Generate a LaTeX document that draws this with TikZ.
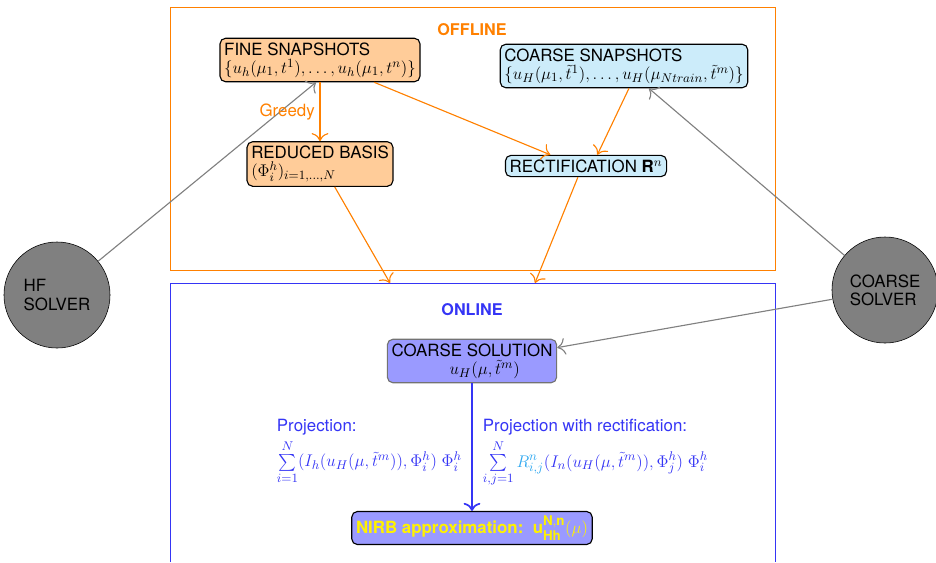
\documentclass[tikz,border=0pt]{standalone}
\usepackage{amsmath}
\usepackage{xcolor}
\usepackage{fontspec}
\setmainfont{TeX Gyre Heros}
\usepackage{tikz}
\usetikzlibrary{arrows.meta, positioning, calc}

% math a bit larger than the sans text around it
\DeclareMathSizes{12}{13}{9.5}{7.5}

\definecolor{offorange}{HTML}{FF8000}
\definecolor{onblue}{HTML}{3535F5}
\definecolor{finefill}{HTML}{FFCC99}
\definecolor{coarsefill}{HTML}{CCECFA}
\definecolor{solfill}{HTML}{9A9AFF}
\definecolor{rectblue}{HTML}{2FA8F0}
\definecolor{nirbyellow}{HTML}{FFF200}

\begin{document}
\begin{tikzpicture}[
    x=0.025cm, y=-0.025cm,
    every node/.style={font=\fontsize{12}{13}\selectfont},
    snap/.style={rectangle, rounded corners=4pt, draw, thick, align=left,
                 inner sep=3pt},
    solver/.style={circle, draw, fill=black!50, minimum size=2.65cm, align=left},
    framelabel/.style={font=\fontsize{11.5}{13}\selectfont\bfseries},
    offarrow/.style={-{To[length=2mm]}, thick, draw=offorange},
    grayarrow/.style={-{To[length=2mm]}, thick, draw=black!50},
    onarrow/.style={-{To[length=2mm]}, very thick, draw=onblue}
]
\useasboundingbox (0,0) rectangle (936,562);

% Offline / online frames
\draw[offorange] (170,7) rectangle (775,270);
\node[framelabel, text=offorange] (offlbl) at (472,30) {OFFLINE};
\draw[onblue] (170,562) |- (775,283) -- (775,562);
\node[framelabel, text=onblue] (onlbl) at (472,310) {ONLINE};

% Snapshots
\node[snap, fill=finefill] (fine) at (320,60)
    {FINE SNAPSHOTS \\ $\{u_h(\mu_1,t^1),\dots,u_h(\mu_1,t^n)\}$};
\node[snap, fill=coarsefill] (coarse) at (624,66)
    {COARSE SNAPSHOTS \\ $\{u_H(\mu_1,\tilde{t}^1),\dots,u_H(\mu_{Ntrain},\tilde{t}^m)\}$};

% Reduced basis and rectification
\node[snap, fill=finefill] (basis) at (320,164)
    {REDUCED BASIS \\ $(\Phi_i^h)_{i=1,\dots,N}$};
\node[snap, fill=coarsefill] (rect) at (586,166) {RECTIFICATION \textbf{R}$^n$};

% Solvers
\node[solver] (hf) at (57,295) {HF \\ SOLVER};
\node[solver] (cs) at (885,290) {COARSE \\ SOLVER};

% Online part
\node[snap, fill=solfill, draw=black!55] (sol) at (472,361)
    {COARSE SOLUTION \\ \hspace*{1.45cm}$u_H(\mu,\tilde{t}^m)$};
\node[snap, fill=solfill] (nirb) at (472,528)
    {\color{nirbyellow}\bfseries NIRB approximation:\ \ $\textbf{u}_{\textbf{Hh}}^{\textbf{N},\textbf{n}}(\mu)$};

\node[align=left, text=onblue, anchor=north west] (proj) at (272,414)
    {Projection: \\[3pt]
     $\sum\limits_{i=1}^{N}(I_h(u_H(\mu,\tilde{t}^m)),\Phi_i^h)\;\Phi_i^h$};
\node[align=left, text=onblue, anchor=north west] (projrect) at (478,414)
    {Projection with rectification: \\[3pt]
     $\sum\limits_{i,j=1}^{N}\textcolor{rectblue}{R_{i,j}^n}(I_n(u_H(\mu,\tilde{t}^m)),\Phi_j^h)\;\Phi_i^h$};

\coordinate (onlineL) at (390,283);
\coordinate (onlineR) at (535,283);

% Arrows
\draw[grayarrow] (hf) -- ($(fine.south west)!0.48!(fine.south east)$);
\draw[grayarrow] (cs) -- ($(coarse.south west)!0.6!(coarse.south east)$);
\draw[grayarrow] (cs) -- ($(sol.north east)!0.2!(sol.south east)$);

\draw[offarrow] (fine.south -| basis.north) -- (basis.north)
    node[midway, left, text=offorange] {Greedy};
\draw[offarrow] ($(fine.south west)!0.77!(fine.south east)$) -- ($(rect.north west)!0.28!(rect.north east)$);
\draw[offarrow] ($(coarse.south west)!0.52!(coarse.south east)$) -- ($(rect.north west)!0.57!(rect.north east)$);
\draw[offarrow] ($(basis.south west)!0.6!(basis.south east)$) -- (onlineL);
\draw[offarrow] ($(rect.south west)!0.45!(rect.south east)$) -- (onlineR);

\draw[onarrow] (sol) -- (nirb);

\end{tikzpicture}
\end{document}
